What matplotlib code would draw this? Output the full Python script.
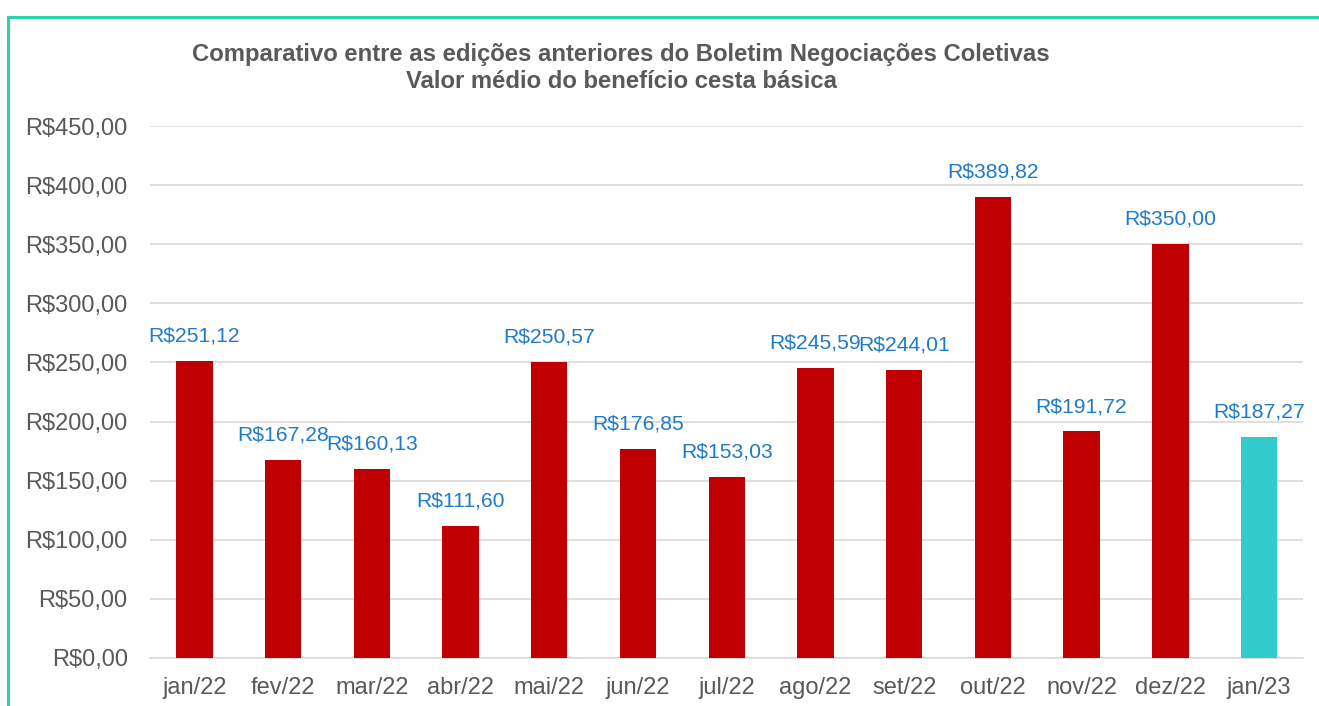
import matplotlib.pyplot as plt
from matplotlib.lines import Line2D

plt.rcParams['font.family'] = ['Liberation Sans', 'DejaVu Sans']

meses = ['jan/22', 'fev/22', 'mar/22', 'abr/22', 'mai/22', 'jun/22', 'jul/22',
         'ago/22', 'set/22', 'out/22', 'nov/22', 'dez/22', 'jan/23']
valores = [251.12, 167.28, 160.13, 111.60, 250.57, 176.85, 153.03,
           245.59, 244.01, 389.82, 191.72, 350.00, 187.27]
cores = ['#C00000'] * 12 + ['#33CCCC']


def reais(v):
    return 'R$' + f'{v:,.2f}'.replace(',', 'X').replace('.', ',').replace('X', '.')


fig = plt.figure(figsize=(13.19, 7.06), dpi=100)
ax = fig.add_axes([0.1137, 0.068, 0.8745, 0.7535])

x = range(len(meses))
bars = ax.bar(x, valores, width=0.41, color=cores, zorder=3)

for b, v in zip(bars, valores):
    ax.annotate(reais(v), (b.get_x() + b.get_width() / 2, v),
                xytext=(0, 11), textcoords='offset points',
                ha='center', va='bottom', fontsize=15.2, color='#1F7BC8')

ax.set_xlim(-0.5, len(meses) - 0.5)
ax.set_ylim(0, 450)
ax.set_yticks(range(0, 451, 50))
ax.set_yticklabels([reais(t) for t in range(0, 451, 50)])
ax.set_xticks(list(x))
ax.set_xticklabels(meses)
ax.tick_params(axis='both', length=0, labelsize=17, colors='#595959')
ax.tick_params(axis='y', pad=16)
ax.tick_params(axis='x', pad=14)
ax.grid(axis='y', color='#D9D9D9', linewidth=1.2, zorder=0)
for s in ['top', 'right', 'left']:
    ax.spines[s].set_visible(False)
ax.spines['bottom'].set_color('#D9D9D9')
ax.spines['bottom'].set_linewidth(1.2)

fig.text(0.471, 0.904, 'Comparativo entre as edições anteriores do Boletim Negociações Coletivas\n'
         'Valor médio do benefício cesta básica',
         ha='center', va='center', fontsize=17.2, fontweight='bold', color='#595959',
         linespacing=1.25)

# moldura verde
borda = '#2BD4A8'
fig.add_artist(Line2D([8 / 1319, 1], [1 - 17 / 706, 1 - 17 / 706], color=borda, lw=2.2,
                      transform=fig.transFigure))
fig.add_artist(Line2D([8 / 1319, 8 / 1319], [0, 1 - 17 / 706], color=borda, lw=2.2,
                      transform=fig.transFigure))

fig.savefig('out.png', dpi=100)
